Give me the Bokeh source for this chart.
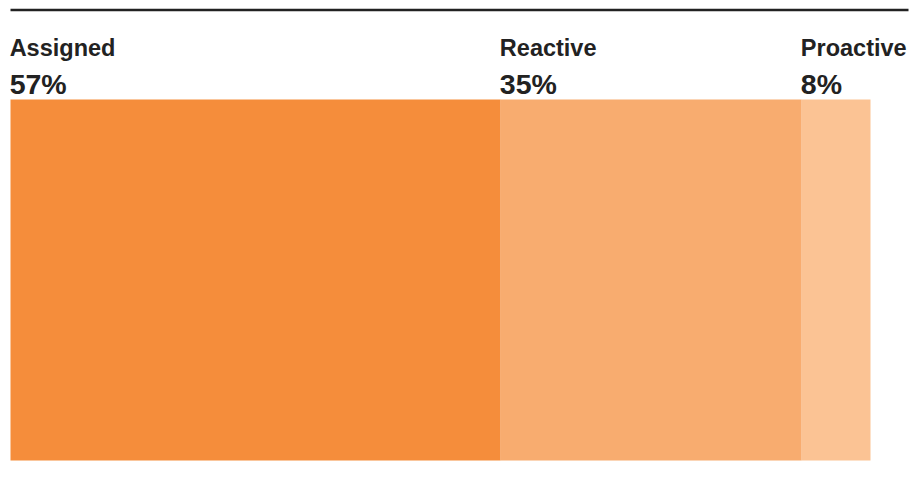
from bokeh.plotting import figure
from bokeh.models import Range1d, ColumnDataSource
from bokeh.embed import file_html
from bokeh.resources import INLINE
from bokeh.core.properties import value

categories = ["Assigned", "Reactive", "Proactive"]
shares = [57, 35, 8]
pct_labels = ["57%", "35%", "8%"]
colors = ["#F58D3B", "#F8AC6F", "#FBC394"]

W, H = 911, 482
left_px, right_px = 10, 870
ppu = (right_px - left_px) / 100.0
x0 = -left_px / ppu
x1 = x0 + W / ppu

lefts = []
acc = 0
for s in shares:
    lefts.append(acc)
    acc += s
rights = [l + s for l, s in zip(lefts, shares)]

src = ColumnDataSource(dict(left=lefts, right=rights, color=colors,
                            cat=categories, pct=pct_labels,
                            lx=[l - 0.1 for l in lefts]))

p = figure(width=W, height=H, output_backend="svg", toolbar_location=None,
           x_range=Range1d(x0, x1), y_range=Range1d(H, 0),
           min_border=0, outline_line_color=None)
p.axis.visible = False
p.grid.visible = False
p.background_fill_color = "white"
p.border_fill_color = "white"

p.quad(left="left", right="right", top=99, bottom=460, color="color",
       line_color=None, source=src)

p.segment(x0=[0], x1=[x0 + 908 / ppu], y0=[9.5], y1=[9.5],
          line_color="#222222", line_width=2.5)

p.text(x="lx", y=47, text="cat", source=src, text_font=value("Liberation Sans"),
       text_font_style="bold", text_font_size="23.5px", text_color="#222222",
       text_baseline="alphabetic", text_align="left")
p.text(x="lx", y=83, text="pct", source=src, text_font=value("Liberation Sans"),
       text_font_style="bold", text_font_size="28.5px", text_color="#222222",
       text_baseline="alphabetic", text_align="left")

open("out.html", "w").write(file_html(p, INLINE))
